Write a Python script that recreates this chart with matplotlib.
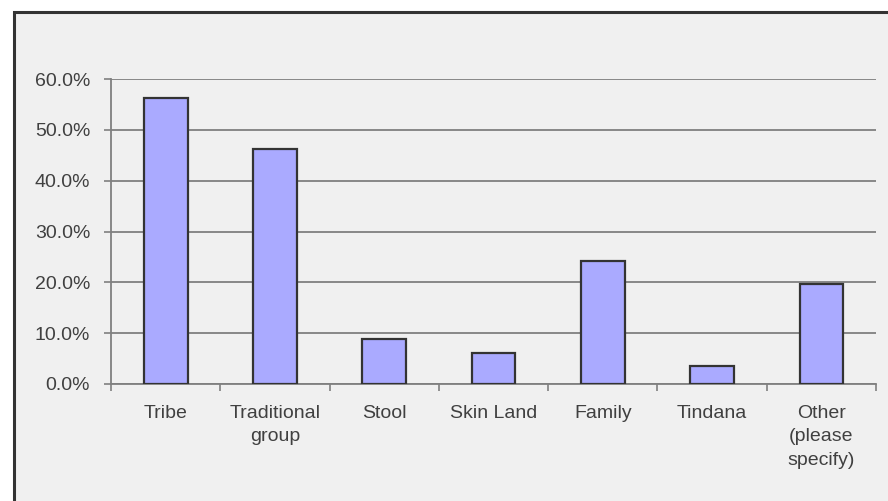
import matplotlib
matplotlib.use("Agg")
import matplotlib.pyplot as plt
from matplotlib.patches import Rectangle
from matplotlib.ticker import FuncFormatter, FixedLocator

# data
categories = ["Tribe", "Traditional\ngroup", "Stool", "Skin Land", "Family",
              "Tindana", "Other\n(please\nspecify)"]
values = [56.2, 46.3, 8.9, 6.1, 24.1, 3.5, 19.6]

plt.rcParams['font.family'] = ['Liberation Sans', 'DejaVu Sans']

W, H = 888, 501
fig = plt.figure(figsize=(W / 100, H / 100), dpi=100)
fig.patch.set_facecolor('white')

# grey chart frame, cut off at the right and bottom
frame = Rectangle((14 / W, -0.1), 1.2, 1.1 - 12 / H, transform=fig.transFigure,
                  facecolor='#f0f0f0', edgecolor='#333333', linewidth=2.2, zorder=-10)
fig.patches.append(frame)

ax = fig.add_axes([111 / W, 117 / H, (876 - 111) / W, 305 / H])
ax.set_facecolor('none')

x = list(range(len(categories)))
ax.bar(x, values, width=0.4, color='#aaaaff', edgecolor='#333333', linewidth=1.6, zorder=3)

ax.set_xlim(-0.5, len(categories) - 0.5)
ax.set_ylim(0, 60)
ax.set_yticks([0, 10, 20, 30, 40, 50, 60])
ax.yaxis.set_major_formatter(FuncFormatter(lambda v, p: "%.1f%%" % v))
ax.grid(axis='y', color='#808080', linewidth=1.3, zorder=1)
ax.set_axisbelow(True)

ax.set_xticks(x)
ax.set_xticklabels(categories)
ax.xaxis.set_minor_locator(FixedLocator([i - 0.5 for i in range(len(categories) + 1)]))
ax.tick_params(axis='x', which='major', length=0, pad=15, labelsize=14, labelcolor='#404040')
ax.tick_params(axis='x', which='minor', length=5, width=1.2, color='#808080', direction='out')
ax.tick_params(axis='y', length=5, width=1.2, color='#808080', pad=10, labelsize=14,
               labelcolor='#404040')
for lab in ax.get_xticklabels():
    lab.set_linespacing(1.5)

for s in ['top', 'right']:
    ax.spines[s].set_visible(False)
for s in ['left', 'bottom']:
    ax.spines[s].set_color('#808080')
    ax.spines[s].set_linewidth(1.3)

fig.savefig("out.png", dpi=100)
